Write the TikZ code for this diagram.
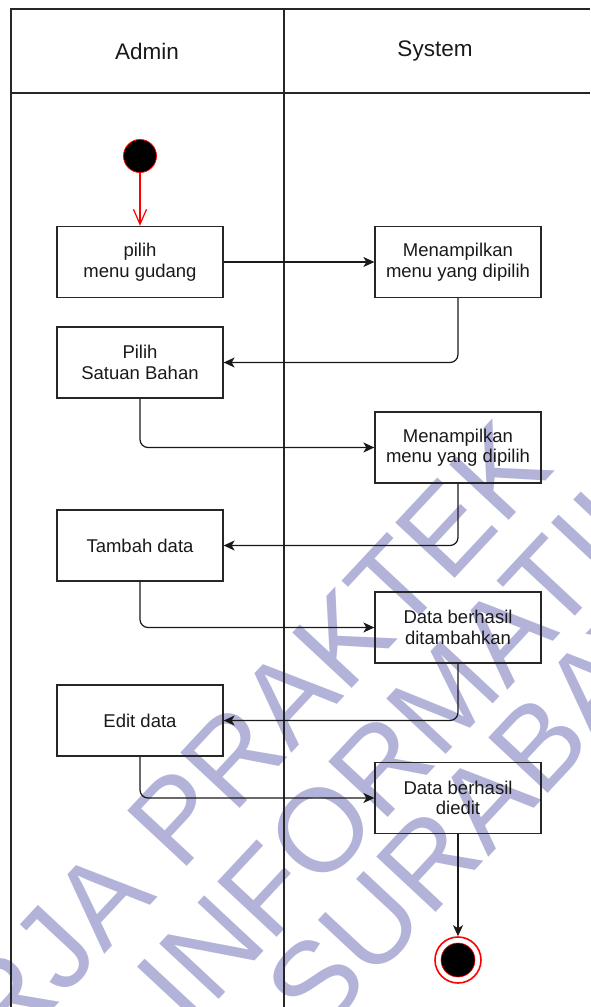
\documentclass[tikz,border=0pt]{standalone}
\usepackage{fontspec}
\setmainfont{Liberation Sans}
\usetikzlibrary{arrows.meta}
\definecolor{wm}{RGB}{179,179,217}
\begin{document}
\begin{tikzpicture}[x=1pt,y=-1pt,
  lane/.style={line width=1.3pt, draw=black!85},
  act/.style={draw=black!85, line width=1.3pt, minimum width=166pt, minimum height=71pt,
    inner sep=0pt, align=center, font=\fontsize{18.5}{20.5}\selectfont, text=black!90},
  hdr/.style={font=\fontsize{22.5}{25}\selectfont, text=black!90},
  flow/.style={line width=1.2pt, draw=black!90, rounded corners=8pt,
    -{Stealth[length=11pt,width=10pt,inset=3pt]}},
  wmark/.style={text=wm, font=\fontsize{118}{118}\selectfont, rotate=47, inner sep=0pt}
]
\useasboundingbox (0,0) rectangle (590,1007);

% watermark
\begin{scope}
  \clip (0,0) rectangle (590,1007);
  \node[wmark, anchor=base east] (w1) at (556,470) {KERJA PRAKTEK};
  \node[wmark, anchor=base west] (w2) at (189.5,1030.5) {INFORMATIKA};
  \node[wmark, anchor=base west] (w3) at (318,1040) {SURABAYA};
\end{scope}

% swimlanes
\draw[lane] (11,1007) -- (11,9) -- (590,9);
\draw[lane] (11,93) -- (590,93);
\draw[lane] (284,9) -- (284,1007);
\node[hdr] (hA) at (147,51) {Admin};
\node[hdr] (hS) at (435,51) {System};

% activities
\node[act] (b1) at (140,262)   {pilih\\menu gudang};
\node[act] (b2) at (458,262)   {Menampilkan\\menu yang dipilih};
\node[act] (b3) at (140,362.5) {Pilih\\Satuan Bahan};
\node[act] (b4) at (458,447.5) {Menampilkan\\menu yang dipilih};
\node[act] (b5) at (140,545.5) {Tambah data};
\node[act] (b6) at (458,627.5) {Data berhasil\\ditambahkan};
\node[act] (b7) at (140,720.5) {Edit data};
\node[act] (b8) at (458,798)   {Data berhasil\\diedit};

% initial and final states
\node[circle, fill=black, draw=red, line width=0.8pt, minimum size=33pt, inner sep=0pt] (start) at (140,156) {};
\node[circle, draw=red, line width=1.6pt, minimum size=46pt, inner sep=0pt] (end) at (458,960) {};
\node[circle, fill=black, draw=red, line width=0.6pt, minimum size=34pt, inner sep=0pt] (endcore) at (end) {};

% flows
\draw[red, line width=1.2pt, -{Straight Barb[length=15pt,width=13pt]}] (start) -- (b1);
\draw[flow] (b1) -- (b2);
\draw[flow] (b2.south) |- (b3.east);
\draw[flow] (b3.south) |- (b4.west);
\draw[flow] (b4.south) |- (b5.east);
\draw[flow] (b5.south) |- (b6.west);
\draw[flow] (b6.south) |- (b7.east);
\draw[flow] (b7.south) |- (b8.west);
\draw[flow] (b8) -- (end);
\end{tikzpicture}
\end{document}
